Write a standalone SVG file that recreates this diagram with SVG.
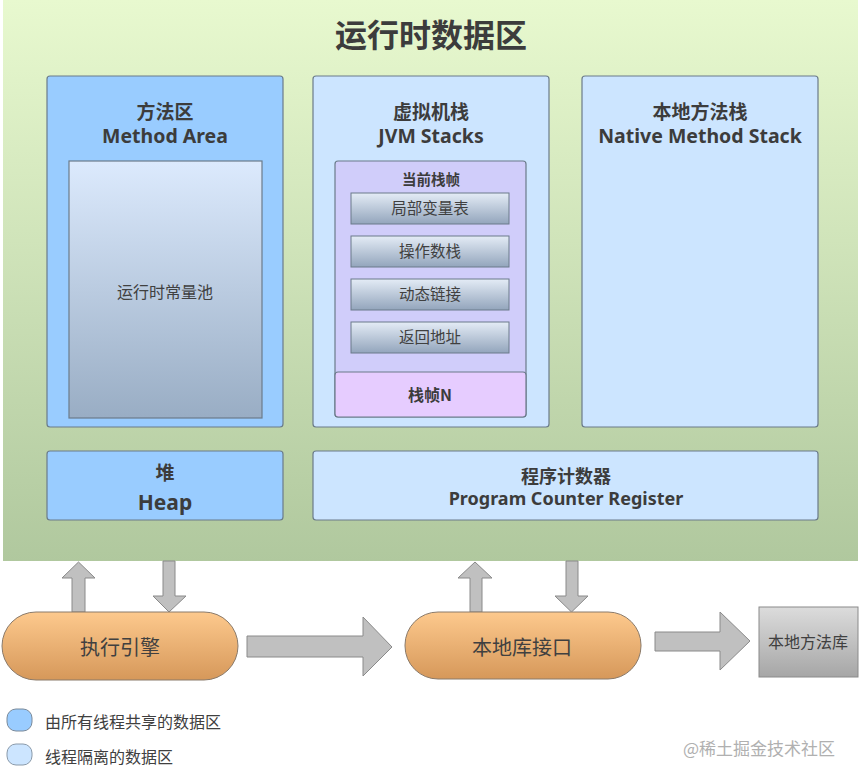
<svg xmlns="http://www.w3.org/2000/svg" width="861" height="782" viewBox="0 0 861 782">
<defs>
<linearGradient id="gBg" x1="0" y1="0" x2="0" y2="1"><stop offset="0" stop-color="#e8f9cf"/><stop offset="1" stop-color="#b0c89e"/></linearGradient>
<linearGradient id="gPool" x1="0" y1="0" x2="0" y2="1"><stop offset="0" stop-color="#dceafd"/><stop offset="1" stop-color="#99adc4"/></linearGradient>
<linearGradient id="gItem" x1="0" y1="0" x2="0" y2="1"><stop offset="0" stop-color="#e4ecf6"/><stop offset="1" stop-color="#93a5bc"/></linearGradient>
<linearGradient id="gPill" x1="0" y1="0" x2="0" y2="1"><stop offset="0" stop-color="#fdc98d"/><stop offset="1" stop-color="#d6985a"/></linearGradient>
<linearGradient id="gLib" x1="0" y1="0" x2="0" y2="1"><stop offset="0" stop-color="#dcdcdc"/><stop offset="1" stop-color="#a6a6a6"/></linearGradient>
<style>
.t{font-family:"Noto Sans CJK SC","Noto Sans",sans-serif;fill:#404040;text-anchor:middle}
.l{font-family:"Noto Sans","Noto Sans CJK SC",sans-serif}
.s{text-anchor:start}
.b{font-weight:bold;fill:#3c3c3c}
.box{stroke:#6b7b8a;stroke-width:1.2}
.arr{fill:#c0c0c0;stroke:#8a8a8a;stroke-width:1}
</style>
</defs>
<rect x="3" y="0" width="855" height="561" fill="url(#gBg)"/>
<text class="t b" x="431" y="47" font-size="32">运行时数据区</text>

<g id="method-area">
<rect class="box" x="47" y="76" width="236" height="351" rx="3" fill="#99ccff"/>
<text class="t b" x="165" y="119" font-size="19">方法区</text>
<text class="t l b" x="165" y="143" font-size="19.5">Method Area</text>
<rect x="69" y="161" width="193" height="257" fill="url(#gPool)" stroke="#6b7b8a" stroke-width="1.2"/>
<text class="t" x="165" y="298" font-size="16">运行时常量池</text>
</g>

<g id="jvm-stacks">
<rect class="box" x="313" y="76" width="236" height="351" rx="3" fill="#cce5ff"/>
<text class="t b" x="431" y="119" font-size="19">虚拟机栈</text>
<text class="t l b" x="431" y="143" font-size="19.5">JVM Stacks</text>
<rect class="box" x="335" y="161" width="191" height="256" rx="3" fill="#d0cdfa"/>
<text class="t b" x="431" y="185" font-size="14.5">当前栈帧</text>
<rect x="351" y="193" width="158" height="31" fill="url(#gItem)" stroke="#6b7b8a"/>
<text class="t" x="430" y="214" font-size="15.5">局部变量表</text>
<rect x="351" y="236" width="158" height="31" fill="url(#gItem)" stroke="#6b7b8a"/>
<text class="t" x="430" y="257" font-size="15.5">操作数栈</text>
<rect x="351" y="279" width="158" height="31" fill="url(#gItem)" stroke="#6b7b8a"/>
<text class="t" x="430" y="300" font-size="15.5">动态链接</text>
<rect x="351" y="322" width="158" height="31" fill="url(#gItem)" stroke="#6b7b8a"/>
<text class="t" x="430" y="343" font-size="15.5">返回地址</text>
<rect class="box" x="335" y="372" width="191" height="45" rx="3" fill="#e6ccff"/>
<text class="t b" x="430" y="401" font-size="16">栈帧N</text>
</g>

<g id="native-method-stack">
<rect class="box" x="582" y="76" width="236" height="351" rx="3" fill="#cce5ff"/>
<text class="t b" x="700" y="119" font-size="19">本地方法栈</text>
<text class="t l b" x="700" y="143" font-size="19.5">Native Method Stack</text>
</g>

<g id="heap">
<rect class="box" x="47" y="451" width="236" height="69" rx="3" fill="#99ccff"/>
<text class="t b" x="165" y="480" font-size="19">堆</text>
<text class="t l b" x="165" y="510" font-size="21">Heap</text>
</g>

<g id="pc-register">
<rect class="box" x="313" y="451" width="505" height="69" rx="3" fill="#cce5ff"/>
<text class="t b" x="566" y="483" font-size="18">程序计数器</text>
<text class="t l b" x="566" y="505" font-size="18">Program Counter Register</text>
</g>

<g id="connectors">
<polygon class="arr" points="72,612 72,578 62,578 78.5,562 95,578 85,578 85,612"/>
<polygon class="arr" points="163,561 175,561 175,596 186,596 169,612 153,596 163,596"/>
<polygon class="arr" points="247,636 363,636 363,617 392,647 363,676 363,657 247,657"/>
<polygon class="arr" points="470,612 470,578 458,578 475,562 492,578 482,578 482,612"/>
<polygon class="arr" points="566,561 578,561 578,596 588,596 571.5,612 555,596 566,596"/>
<polygon class="arr" points="655,632 720,632 720,612 750,641 720,670 720,651 655,651"/>
</g>

<g id="execution-engine">
<rect x="2" y="612" width="236" height="68" rx="34" fill="url(#gPill)" stroke="#8a7a6a" stroke-width="1"/>
<text class="t" x="120" y="655" font-size="20">执行引擎</text>
</g>

<g id="native-interface">
<rect x="405" y="612" width="236" height="67" rx="33" fill="url(#gPill)" stroke="#8a7a6a" stroke-width="1"/>
<text class="t" x="522" y="655" font-size="20">本地库接口</text>
</g>

<g id="native-library">
<rect x="759" y="607" width="99" height="70" fill="url(#gLib)" stroke="#8a8a8a"/>
<text class="t" x="808" y="648" font-size="16">本地方法库</text>
</g>

<g id="legend">
<rect x="7" y="709" width="25" height="22" rx="9" fill="#99ccff" stroke="#7a8a9a"/>
<text class="t s" x="45" y="728" font-size="16">由所有线程共享的数据区</text>
<rect x="7" y="744" width="25" height="21" rx="9" fill="#cce5ff" stroke="#8a9aaa"/>
<text class="t s" x="45" y="763" font-size="16">线程隔离的数据区</text>
</g>
<text class="t" x="759" y="755" font-size="17" style="fill:#b0b0b0">@稀土掘金技术社区</text>
</svg>
